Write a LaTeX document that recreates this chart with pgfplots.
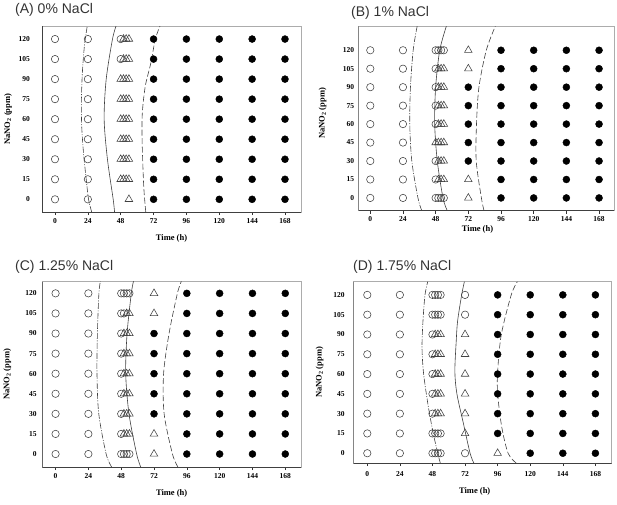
\documentclass[border=0pt]{standalone}
\usepackage{pgfplots}
\pgfplotsset{compat=1.18}
\usepackage{fontspec}
\setmainfont{Liberation Serif}
\newfontfamily\titlefont{Liberation Sans}
\definecolor{titlegray}{HTML}{333333}
\pgfplotsset{
 panel/.style={
  scale only axis,
  axis line style={draw=gray!65, line width=0.6pt},
  xtick={0,24,48,72,96,120,144,168},
  ytick={0,15,30,45,60,75,90,105,120},
  tick align=outside,
  xtick pos=left, ytick pos=left,
  ytick style={draw=none},
  xtick style={draw=black!80, line width=0.5pt},
  major tick length=3pt,
  tick label style={font=\fontsize{7.5}{8}\selectfont\bfseries},
  /pgf/number format/assume math mode=true,
  xlabel={Time (h)},
  ylabel={NaNO\textsubscript{2} (ppm)},
  label style={font=\fontsize{8.5}{10}\selectfont\bfseries},
  xlabel style={at={(axis description cs:0.5,0)}, anchor=north, inner sep=0pt},
  ylabel style={at={(axis description cs:0,0.5)}, anchor=center, inner sep=0pt},
  yticklabel style={inner sep=0pt, anchor=east},
  xticklabel style={inner sep=0pt, anchor=north},
 },
 oc/.style={only marks, mark=o, mark size=3.7pt, mark options={draw=black!75, line width=0.55pt}},
 tri/.style={only marks, mark=triangle, mark size=4.4pt, mark options={draw=black!75, line width=0.55pt}},
 fc/.style={only marks, mark=*, mark size=3.5pt, mark options={fill=black, draw=black}},
 dd/.style={smooth, no marks, line width=0.6pt, black!75, dash pattern=on 6pt off 1.5pt on 1pt off 1.5pt},
 so/.style={smooth, no marks, line width=0.6pt, black!75},
 da/.style={smooth, no marks, line width=0.6pt, black!75, dash pattern=on 6pt off 2.5pt},
}
\begin{document}
\begin{tikzpicture}
\useasboundingbox (0,0) rectangle (617pt,504pt);
% ---------------- (A) ----------------
\node[anchor=base west, inner sep=0pt, text=titlegray, font=\titlefont\fontsize{14}{14}\selectfont] at (15pt,490pt) {(A) 0\% NaCl};
\begin{axis}[panel, at={(42pt,292pt)}, anchor=south west, width=259pt, height=185.5pt,
  xmin=-9.5, xmax=179.7, ymin=-9.5, ymax=129.4,
  xlabel style={yshift=-22pt}, ylabel style={yshift=34pt},
  yticklabel style={xshift=-9pt}, xticklabel style={yshift=-3pt}]
\addplot[dd] coordinates {(26.8,-9.5)(24.5,0)(22.8,15)(20.8,35)(19.5,55)(19.3,75)(20.0,95)(21.5,115)(23.6,130)};
\addplot[so] coordinates {(43.5,-9.5)(42.5,0)(38.3,30)(35.9,60)(37.4,90)(42,120)(44.7,130)};
\addplot[da] coordinates {(66.3,-9.5)(64.8,10)(63.6,45)(63.8,65)(66,85)(70,102)(73.3,120)(76.8,130)};
\addplot[oc] coordinates {(0,0)(0,15)(0,30)(0,45)(0,60)(0,75)(0,90)(0,105)(0,120)
 (24,0)(24,15)(24,30)(24,45)(24,60)(24,75)(24,90)(24,105)(24,120)(48,105)(48,120)};
\addplot[tri] coordinates {(48,15)(50,15)(52,15)(54,15)(48,30)(50,30)(52,30)(54,30)
 (48,45)(50,45)(52,45)(54,45)(48,60)(50,60)(52,60)(54,60)(48,75)(50,75)(52,75)(54,75)
 (48,90)(50,90)(52,90)(54,90)(50,105)(52,105)(54,105)(50,120)(52,120)(54,120)(54,0)};
\addplot[fc] coordinates {(72,0)(72,15)(72,30)(72,45)(72,60)(72,75)(72,90)(72,105)(72,120)
 (96,0)(96,15)(96,30)(96,45)(96,60)(96,75)(96,90)(96,105)(96,120)
 (120,0)(120,15)(120,30)(120,45)(120,60)(120,75)(120,90)(120,105)(120,120)
 (144,0)(144,15)(144,30)(144,45)(144,60)(144,75)(144,90)(144,105)(144,120)
 (168,0)(168,15)(168,30)(168,45)(168,60)(168,75)(168,90)(168,105)(168,120)};
\draw[black!75, line width=0.6pt] (rel axis cs:0,1) -- (rel axis cs:0,0) -- (rel axis cs:1,0);
\end{axis}
% ---------------- (B) ----------------
\node[anchor=base west, inner sep=0pt, text=titlegray, font=\titlefont\fontsize{14}{14}\selectfont] at (351pt,487pt) {(B) 1\% NaCl};
\begin{axis}[panel, at={(358.7pt,293.5pt)}, anchor=south west, width=255.6pt, height=184pt,
  xmin=-8.5, xmax=179.2, ymin=-10.2, ymax=139.3,
  xlabel style={yshift=-15pt, xshift=-9pt}, ylabel style={yshift=36pt, xshift=5pt},
  yticklabel style={xshift=-1.5pt}, xticklabel style={yshift=-3pt}]
\addplot[dd] coordinates {(37.8,-10.2)(35,0)(30.5,30)(29,60)(29.5,90)(31.5,120)(34.5,140)};
\addplot[so] coordinates {(56.5,-10.2)(53.4,0)(49.2,30)(47.3,60)(48,90)(51,120)(56,140)};
\addplot[da] coordinates {(83.5,-10.2)(81.6,0)(77.8,30)(78,60)(79.8,90)(85.2,120)(92,140)};
\addplot[oc] coordinates {(0,0)(0,15)(0,30)(0,45)(0,60)(0,75)(0,90)(0,105)(0,120)
 (24,0)(24,15)(24,30)(24,45)(24,60)(24,75)(24,90)(24,105)(24,120)
 (48,0)(50,0)(52,0)(54,0)(48,120)(50,120)(52,120)(54,120)
 (48,15)(48,30)(48,60)(48,75)(48,90)(48,105)};
\addplot[tri] coordinates {(72,0)(72,15)(72,105)(72,120)
 (50,15)(52,15)(54,15)(50,30)(52,30)(54,30)(48,45)(50,45)(52,45)(54,45)
 (50,60)(52,60)(54,60)(50,75)(52,75)(54,75)(50,90)(52,90)(54,90)(50,105)(52,105)(54,105)};
\addplot[fc] coordinates {(72,30)(72,45)(72,60)(72,75)(72,90)
 (96,0)(96,15)(96,30)(96,45)(96,60)(96,75)(96,90)(96,105)(96,120)
 (120,0)(120,15)(120,30)(120,45)(120,60)(120,75)(120,90)(120,105)(120,120)
 (144,0)(144,15)(144,30)(144,45)(144,60)(144,75)(144,90)(144,105)(144,120)
 (168,0)(168,15)(168,30)(168,45)(168,60)(168,75)(168,90)(168,105)(168,120)};
\draw[black!75, line width=0.6pt] (rel axis cs:0,1) -- (rel axis cs:0,0) -- (rel axis cs:1,0);
\end{axis}
% ---------------- (C) ----------------
\node[anchor=base west, inner sep=0pt, text=titlegray, font=\titlefont\fontsize{14}{14}\selectfont] at (15pt,234pt) {(C) 1.25\% NaCl};
\begin{axis}[panel, at={(42.3pt,37pt)}, anchor=south west, width=258.7pt, height=185.3pt,
  xmin=-9.7, xmax=179.5, ymin=-9.7, ymax=128.7,
  xlabel style={yshift=-22pt}, ylabel style={yshift=35pt},
  yticklabel style={xshift=-2.5pt}, xticklabel style={yshift=-3pt}]
\addplot[dd] coordinates {(41,-9.7)(37,0)(31.6,30)(30.3,60)(30.6,90)(31.7,120)(32.8,129)};
\addplot[so] coordinates {(62.3,-9.7)(59.3,0)(53.7,30)(51.3,60)(52.3,90)(55.4,120)(57,129)};
\addplot[da] coordinates {(89.5,-9.7)(85.5,0)(79.4,30)(79,60)(83,90)(89.1,120)(92,129)};
\addplot[oc] coordinates {(0,0)(0,15)(0,30)(0,45)(0,60)(0,75)(0,90)(0,105)(0,120)
 (24,0)(24,15)(24,30)(24,45)(24,60)(24,75)(24,90)(24,105)(24,120)
 (48,0)(50,0)(52,0)(54,0)(48,120)(50,120)(52,120)(54,120)(48,105)(50,105)
 (48,15)(48,30)(48,45)(48,60)(48,75)(48,90)};
\addplot[tri] coordinates {(72,0)(72,15)(72,105)(72,120)(52,105)(54,105)
 (50,15)(52,15)(54,15)(50,30)(52,30)(54,30)(50,45)(52,45)(54,45)
 (50,60)(52,60)(54,60)(50,75)(52,75)(54,75)(50,90)(52,90)(54,90)};
\addplot[fc] coordinates {(72,30)(72,45)(72,60)(72,75)(72,90)
 (96,0)(96,15)(96,30)(96,45)(96,60)(96,75)(96,90)(96,105)(96,120)
 (120,0)(120,15)(120,30)(120,45)(120,60)(120,75)(120,90)(120,105)(120,120)
 (144,0)(144,15)(144,30)(144,45)(144,60)(144,75)(144,90)(144,105)(144,120)
 (168,0)(168,15)(168,30)(168,45)(168,60)(168,75)(168,90)(168,105)(168,120)};
\draw[black!75, line width=0.6pt] (rel axis cs:0,1) -- (rel axis cs:0,0) -- (rel axis cs:1,0);
\end{axis}
% ---------------- (D) ----------------
\node[anchor=base west, inner sep=0pt, text=titlegray, font=\titlefont\fontsize{14}{14}\selectfont] at (353pt,234pt) {(D) 1.75\% NaCl};
\begin{axis}[panel, at={(353.7pt,41pt)}, anchor=south west, width=258pt, height=181.3pt,
  xmin=-10, xmax=180, ymin=-7.4, ymax=130,
  xlabel style={yshift=-24pt, xshift=-8pt}, ylabel style={yshift=34pt},
  yticklabel style={xshift=-6pt}, xticklabel style={yshift=-5pt}]
\addplot[dd] coordinates {(53.8,-7.5)(51.9,0)(48.6,15)(45,35)(41.5,60)(40.3,80)(41,100)(42.5,120)(44.5,130)};
\addplot[so] coordinates {(78.5,-7.5)(75.7,0)(70.7,23)(66,45)(64.5,62)(65.5,85)(66.5,100)(69.5,120)(71.5,130)};
\addplot[da] coordinates {(109.7,-7.5)(103.7,0)(99,20)(96,45)(96,62)(98.7,90)(106,120)(110.5,130)};
\addplot[oc] coordinates {(0,0)(0,15)(0,30)(0,45)(0,60)(0,75)(0,90)(0,105)(0,120)
 (24,0)(24,15)(24,30)(24,45)(24,60)(24,75)(24,90)(24,105)(24,120)
 (48,0)(50,0)(52,0)(54,0)(48,15)(50,15)(52,15)(54,15)
 (48,105)(50,105)(52,105)(54,105)(48,120)(50,120)(52,120)(54,120)
 (48,30)(48,45)(48,60)(48,75)(48,90)(72,0)(72,105)(72,120)};
\addplot[tri] coordinates {(72,15)(72,30)(72,45)(72,60)(72,75)(72,90)(96,0)
 (50,30)(52,30)(54,30)(50,45)(52,45)(54,45)(50,60)(52,60)(54,60)
 (50,75)(52,75)(54,75)(50,90)(52,90)(54,90)};
\addplot[fc] coordinates {(96,15)(96,30)(96,45)(96,60)(96,75)(96,90)(96,105)(96,120)
 (120,0)(120,15)(120,30)(120,45)(120,60)(120,75)(120,90)(120,105)(120,120)
 (144,0)(144,15)(144,30)(144,45)(144,60)(144,75)(144,90)(144,105)(144,120)
 (168,0)(168,15)(168,30)(168,45)(168,60)(168,75)(168,90)(168,105)(168,120)};
\draw[black!75, line width=0.6pt] (rel axis cs:0,1) -- (rel axis cs:0,0) -- (rel axis cs:1,0);
\end{axis}
\end{tikzpicture}
\end{document}
